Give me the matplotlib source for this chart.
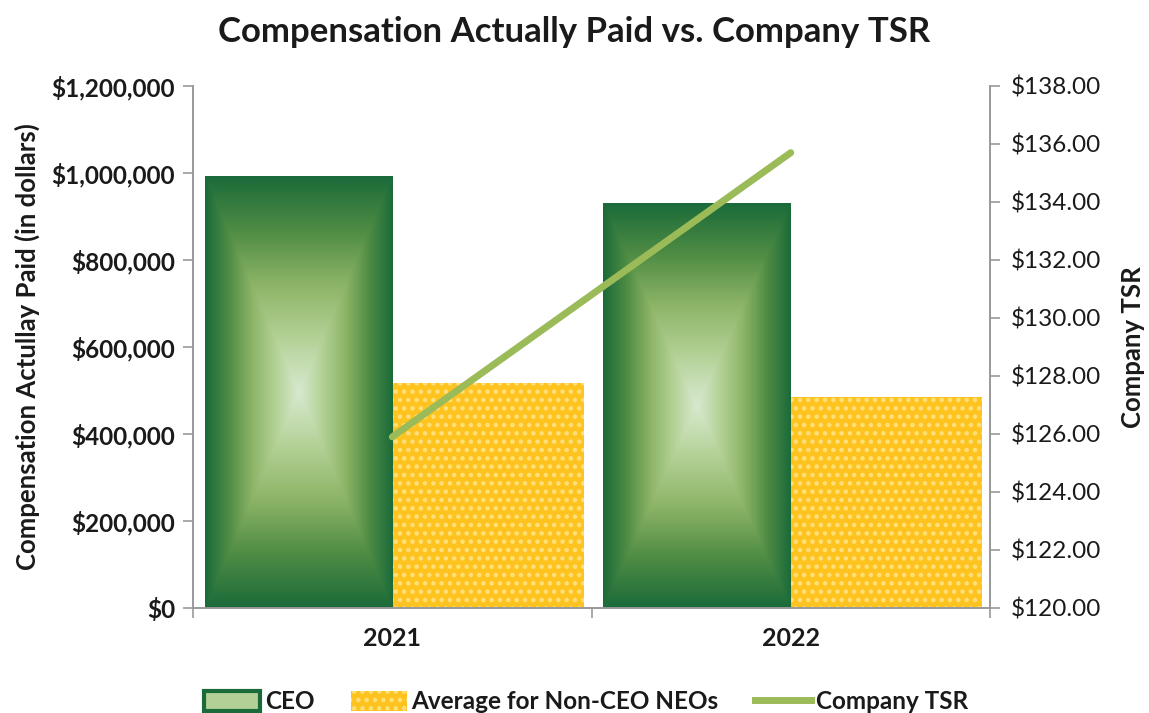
import numpy as np
import matplotlib
matplotlib.use("Agg")
import matplotlib.pyplot as plt
from matplotlib.patches import Rectangle
from matplotlib.lines import Line2D
from matplotlib.colors import LinearSegmentedColormap
from matplotlib.ticker import FuncFormatter

years = ["2021", "2022"]
ceo_cap = [993000, 929000]
neo_cap = [517000, 485000]
company_tsr = [125.9, 135.7]

plt.rcParams['font.family'] = ['Lato', 'DejaVu Sans']
plt.rcParams['hatch.linewidth'] = 2.0

fig = plt.figure(figsize=(11.49, 7.13), dpi=100)
ax = fig.add_axes([0.168, 0.1473, 0.6936, 0.7321])

x = np.arange(len(years))
w = 0.47
ceo_bars = ax.bar(x - w / 2, ceo_cap, width=w, color='#1b6b3a', linewidth=0, zorder=2)
neo_bars = ax.bar(x + w / 2 + 0.005, neo_cap, width=0.48, color='#FFC31F',
                  edgecolor='#FFE07A', linewidth=0, hatch='..', zorder=2)

# gradient fill for CEO bars (rectangular path gradient, bright at centre)
cmap = LinearSegmentedColormap.from_list('g', ['#d8e9cf', '#b3d196', '#8cb466', '#4f8c44', '#1b6b3a'])
for b in ceo_bars:
    x0, y0 = b.get_x(), b.get_y()
    bw, bh = b.get_width(), b.get_height()
    nx, ny = 200, 400
    xs = np.linspace(-1, 1, nx)
    ys = np.linspace(-1, 1, ny)
    X, Y = np.meshgrid(xs, ys)
    T = np.maximum(np.abs(X), np.abs(Y))
    ax.imshow(T, cmap=cmap, vmin=0, vmax=1, origin='lower', aspect='auto',
              extent=[x0, x0 + bw, y0, y0 + bh], zorder=2.5, clip_path=b, interpolation='bilinear')

ax.set_xlim(-0.5, 1.5)
ax.set_ylim(0, 1200000)
ax.set_yticks(np.arange(0, 1200001, 200000))
ax.yaxis.set_major_formatter(FuncFormatter(lambda v, p: f"${v:,.0f}"))
ax.set_xticks(x)
ax.set_xticklabels(years)
ax.set_xticks([-0.5, 0.5, 1.5], minor=True)
ax.tick_params(axis='x', which='major', length=0, pad=14, labelsize=18)
ax.tick_params(axis='x', which='minor', length=7, color='#999999', width=1.2)
ax.tick_params(axis='y', length=7, color='#999999', width=1.2, labelsize=17.5, pad=6)
for lab in ax.get_xticklabels() + ax.get_yticklabels():
    lab.set_fontweight('bold')
    lab.set_color('#1a1a1a')
for s in ['top', 'right']:
    ax.spines[s].set_visible(False)
for s in ['left', 'bottom']:
    ax.spines[s].set_color('#999999')
    ax.spines[s].set_linewidth(1.4)
ax.set_ylabel("Compensation Actullay Paid (in dollars)", fontsize=18.5, fontweight='bold',
              color='#1a1a1a', labelpad=8)

ax2 = ax.twinx()
ax2.plot(x, company_tsr, color='#9BBB59', linewidth=5, solid_capstyle='round', zorder=5)
ax2.set_ylim(120, 138)
ax2.set_yticks(np.arange(120, 138.1, 2))
ax2.yaxis.set_major_formatter(FuncFormatter(lambda v, p: f"${v:,.2f}"))
ax2.tick_params(axis='y', length=7, color='#999999', width=1.2, labelsize=17.5, pad=8,
                labelcolor='#1a1a1a')
for s in ['top', 'left', 'bottom']:
    ax2.spines[s].set_visible(False)
ax2.spines['right'].set_color('#999999')
ax2.spines['right'].set_linewidth(1.4)
ax2.set_ylabel("Company TSR", fontsize=18.5, fontweight='bold', color='#1a1a1a', labelpad=14)

fig.suptitle("Compensation Actually Paid vs. Company TSR", fontsize=25, fontweight='bold',
             color='#1a1a1a', y=0.978)

handles = [
    Rectangle((0, 0), 1, 1, facecolor='#b3d196', edgecolor='#1b6b3a', linewidth=3),
    Rectangle((0, 0), 1, 1, facecolor='#FFC31F', edgecolor='#FFE07A', linewidth=0, hatch='..'),
    Line2D([0], [0], color='#9BBB59', linewidth=5),
]
labels = ["CEO", "Average for Non-CEO NEOs", "Company TSR"]
leg = fig.legend(handles, labels, loc='center', bbox_to_anchor=(0.51, 0.016), ncol=3,
                 frameon=False, prop={'size': 17.5, 'weight': 'bold'}, handlelength=2.3,
                 handleheight=0.9, handletextpad=0.2, columnspacing=1.5)
for t in leg.get_texts():
    t.set_color('#1a1a1a')

fig.savefig("out.png", dpi=100)
